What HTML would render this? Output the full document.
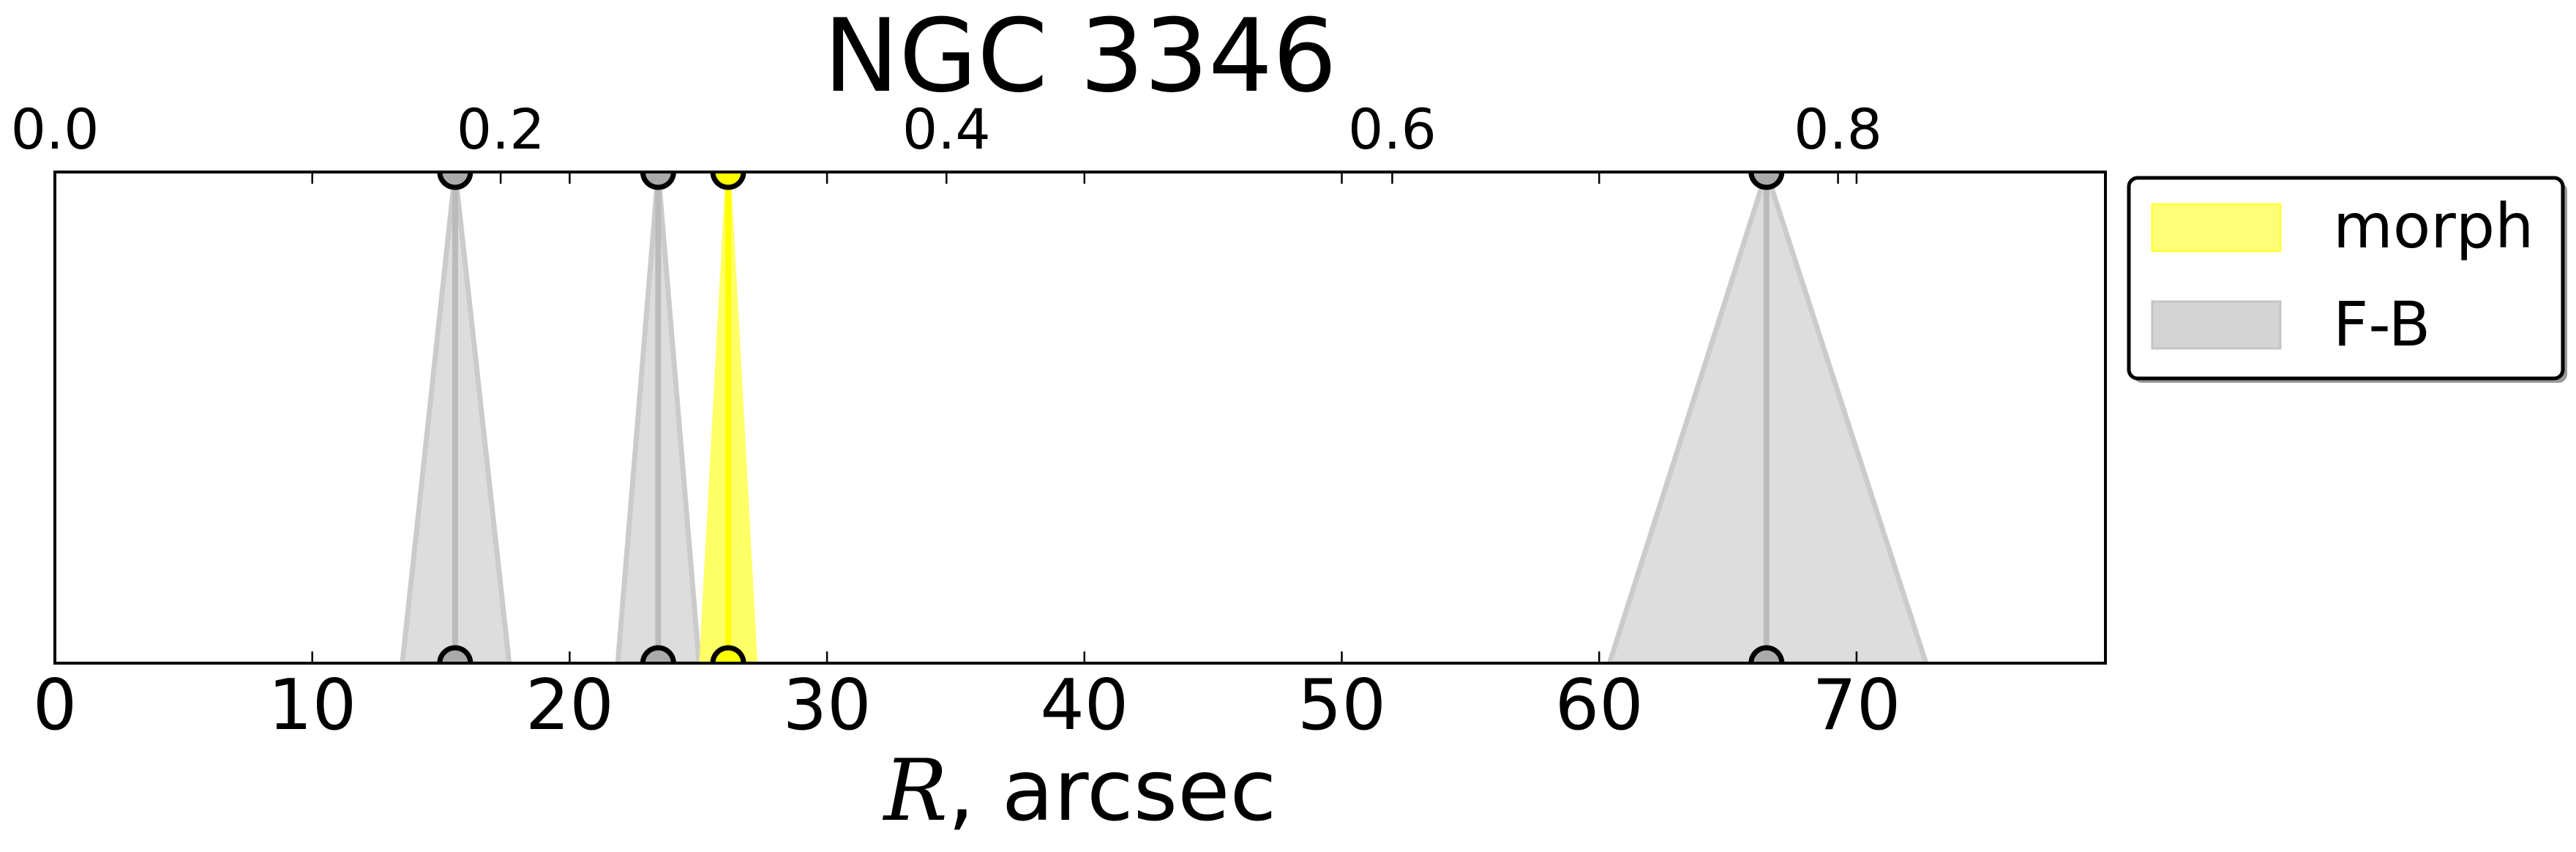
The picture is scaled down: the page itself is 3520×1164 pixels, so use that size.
<!DOCTYPE html>
<html><head><meta charset="utf-8"><style>
html,body{margin:0;padding:0;background:#fff}
svg{display:block}
text{font-family:"DejaVu Sans","Liberation Sans",sans-serif;fill:#000}
</style></head><body>
<svg id="chart" width="3520" height="1164" viewBox="0 0 3520 1164" xmlns="http://www.w3.org/2000/svg">
<defs><clipPath id="plotclip"><rect x="75" y="235" width="2802" height="671"/></clipPath></defs>
<text x="1476" y="124" font-size="138" text-anchor="middle">NGC 3346</text>
<rect x="75" y="235" width="2802" height="671" fill="#fff"/>
<g id="marks" clip-path="url(#plotclip)"></g>
<g id="axes"></g>
<text x="1476" y="1120" font-size="116" text-anchor="middle"><tspan font-family="DejaVu Serif, serif" font-style="italic">R</tspan>, arcsec</text>
<g>
<rect x="2915" y="249" width="593" height="274" rx="12" fill="#999"/>
<rect x="2909" y="243" width="593" height="274" rx="12" fill="#fff" stroke="#000" stroke-width="5"/>
<rect x="2941" y="279" width="175" height="64" fill="#ffff77" stroke="#ffff44" stroke-width="3"/>
<text x="3188" y="338" font-size="84">morph</text>
<rect x="2941" y="412" width="175" height="64" fill="#d4d4d4" stroke="#c4c4c4" stroke-width="3"/>
<text x="3188" y="472" font-size="84">F-B</text>
</g>
</svg>
<script>
const fbCenter = [15.55, 23.44, 66.5];
const fbLeft = [13.5, 21.87, 60.4];
const fbRight = [17.65, 25.03, 72.7];
const morphCenter = [26.16];
const morphLeft = [25.13];
const morphRight = [27.2];
const bottomTicks = [0, 10, 20, 30, 40, 50, 60, 70];
const topTicksKpc = [0.0, 0.2, 0.4, 0.6, 0.8];
const kpcLabels = ["0.0", "0.2", "0.4", "0.6", "0.8"];
const arcsecPerKpc = 86.6;
const xMax = 79.67;

const L = 75, R = 2877, T = 235, B = 906;
const NS = 'http://www.w3.org/2000/svg';
function xs(v){ return L + v / xMax * (R - L); }
function ys(v){ return B - v * (B - T); }
function mk(tag, attrs, parent){
  const e = document.createElementNS(NS, tag);
  for (const k in attrs) e.setAttribute(k, attrs[k]);
  parent.appendChild(e);
  return e;
}
const marks = document.getElementById('marks');
const axes = document.getElementById('axes');

function drawPeak(c, l, r, fill, edge, line, circ, name){
  const p = mk('polygon', {points: `${xs(l)},${ys(0)} ${xs(c)},${ys(1)} ${xs(r)},${ys(0)}`, fill: fill, stroke: edge, 'stroke-width': 7, 'stroke-linejoin': 'miter'}, marks);
  
  
  const ln = mk('line', {x1: xs(c), y1: ys(0), x2: xs(c), y2: ys(1), stroke: line, 'stroke-width': 8}, marks);
  
  
  [0, 1].forEach(v => {
    const ci = mk('circle', {cx: xs(c), cy: ys(v), r: 21, fill: circ, stroke: '#000', 'stroke-width': 7}, marks);
    
    
  });
}
fbCenter.forEach((c, i) => drawPeak(c, fbLeft[i], fbRight[i], 'rgba(200,200,200,0.62)', '#cbcbcb', '#bbbbbb', '#aaaaaa', 'fb-peak-' + (i + 1)));
morphCenter.forEach((c, i) => drawPeak(c, morphLeft[i], morphRight[i], 'rgba(255,255,0,0.6)', '#ffff66', '#ffff00', '#ffff00', 'morph-peak-' + (i + 1)));

const fr = mk('rect', {x: L, y: T, width: R - L, height: B - T, fill: 'none', stroke: '#000', 'stroke-width': 4}, axes);



bottomTicks.forEach(v => {
  const x = xs(v);
  const t1 = mk('line', {x1: x, y1: B, x2: x, y2: B - 16, stroke: '#000', 'stroke-width': 2.5}, axes);
  
  
  const t2 = mk('line', {x1: x, y1: T, x2: x, y2: T + 16, stroke: '#000', 'stroke-width': 2.5}, axes);
  
  
  const tx = mk('text', {x: x, y: 996, 'font-size': 95, 'text-anchor': 'middle'}, axes);
  
  
  tx.textContent = String(v);
});
topTicksKpc.forEach((v, i) => {
  const x = xs(v * arcsecPerKpc);
  if (v > 0) {
    const t = mk('line', {x1: x, y1: T, x2: x, y2: T + 16, stroke: '#000', 'stroke-width': 2.5}, axes);
    
    
  }
  const tx = mk('text', {x: x, y: 203, 'font-size': 76, 'text-anchor': 'middle'}, axes);
  
  
  tx.textContent = kpcLabels[i];
});
</script>
</body></html>
